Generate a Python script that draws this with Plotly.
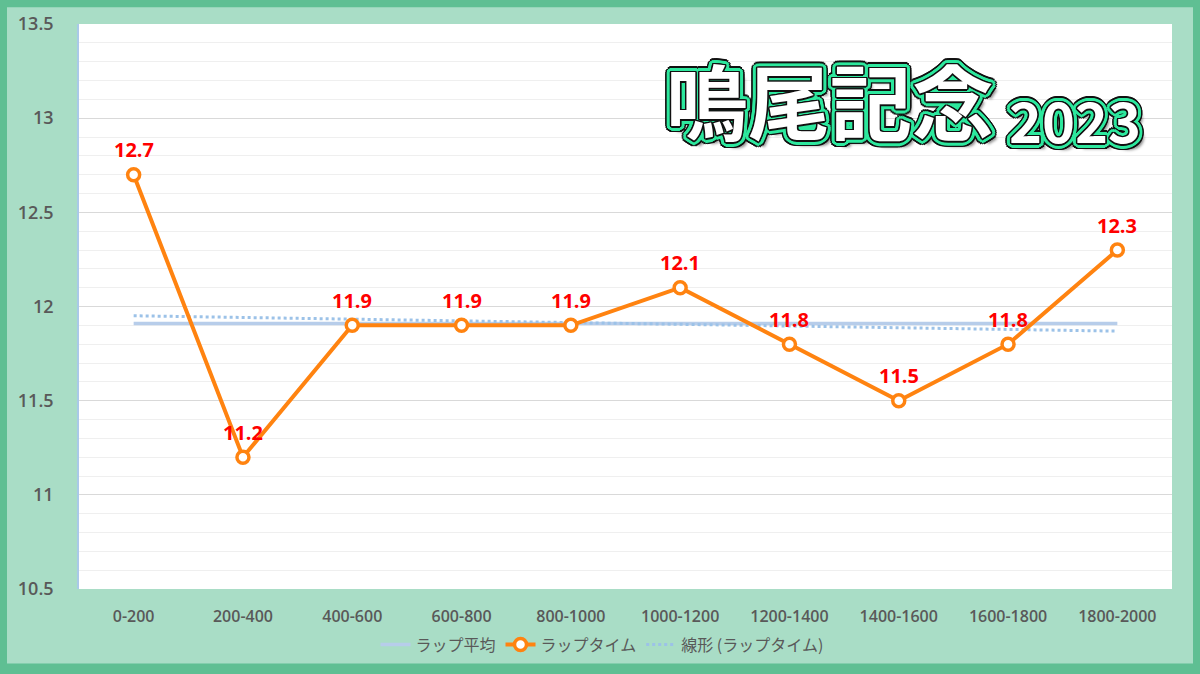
import numpy as np
import plotly.graph_objects as go

categories = ["0-200", "200-400", "400-600", "600-800", "800-1000",
              "1000-1200", "1200-1400", "1400-1600", "1600-1800", "1800-2000"]
lap_times = [12.7, 11.2, 11.9, 11.9, 11.9, 12.1, 11.8, 11.5, 11.8, 12.3]
y_tick_vals = [10.5, 11, 11.5, 12, 12.5, 13, 13.5]
title_main = "鳴尾記念"
title_year = "2023"

avg = float(np.mean(lap_times))
idx = np.arange(1, len(lap_times) + 1)
slope, intercept = np.polyfit(idx, lap_times, 1)
trend = list(slope * idx + intercept)

W, H = 1200, 674
ML, MR, MT, MB = 79, 28, 24, 82
PW, PH = W - ML - MR, H - MT - MB

def px(x):
    return (x - ML) / PW

def py(y):
    return (H - MB - y) / PH

FONT = "Open Sans, Noto Sans CJK JP, sans-serif"
JFONT = "Noto Sans CJK JP, sans-serif"
GRAY = "#595959"
ORANGE = "#FF8310"

fig = go.Figure()
fig.add_trace(go.Scatter(
    x=categories, y=[avg] * len(categories), mode="lines", name="ラップ平均",
    line=dict(color="#B7CDEA", width=3.5), legendrank=1, hoverinfo="skip"))
fig.add_trace(go.Scatter(
    x=categories, y=trend, mode="lines", name="線形 (ラップタイム)",
    line=dict(color="#9CC2E8", width=3, dash="dot"), legendrank=3, hoverinfo="skip"))
fig.add_trace(go.Scatter(
    x=categories, y=lap_times, mode="lines+markers", name="ラップタイム",
    line=dict(color=ORANGE, width=4),
    marker=dict(size=12, color="white", line=dict(color=ORANGE, width=3.5)),
    legendrank=2))

for c, v in zip(categories, lap_times):
    fig.add_annotation(x=c, y=v, text=f"{v:.1f}", showarrow=False, yshift=25,
                       font=dict(family=FONT, size=20, color="#FF0000", weight="bold"))

def ring(r, color, n=16):
    parts = []
    for k in range(n):
        a = 2 * np.pi * k / n
        parts.append(f"{r*np.cos(a):.1f}px {r*np.sin(a):.1f}px 0 {color}")
    return parts

shadow = ", ".join(ring(1.5, "#111111", 12) + ring(3, "#2EE89E", 16) + ring(4.5, "#2EE89E", 16)
                   + ring(6, "#111111", 20) + ["6px 6px 3px rgba(0,0,0,0.45)"])

fig.add_annotation(xref="paper", yref="paper", x=px(830), y=py(99), text=title_main,
                   showarrow=False, xanchor="center", yanchor="middle",
                   font=dict(family=JFONT, size=82, color="white",
                             weight="bold", shadow=shadow))
fig.add_annotation(xref="paper", yref="paper", x=px(1075), y=py(119), text=title_year,
                   showarrow=False, xanchor="center", yanchor="middle",
                   font=dict(family=JFONT, size=56, color="white",
                             weight="bold", shadow=shadow))

# outer frame border
fig.add_shape(type="rect", xref="paper", yref="paper",
              x0=px(0), x1=px(W), y0=py(H), y1=py(0),
              line=dict(color="#5FBF93", width=14), fillcolor="rgba(0,0,0,0)", layer="above")

fig.update_layout(
    width=W, height=H,
    margin=dict(l=ML, r=MR, t=MT, b=MB),
    paper_bgcolor="#A9DDC6", plot_bgcolor="white",
    font=dict(family=FONT, color=GRAY),
    showlegend=True,
    legend=dict(orientation="h", x=px(602), xanchor="center", y=py(648), yanchor="middle",
                font=dict(family=JFONT, size=16, color=GRAY), bgcolor="rgba(0,0,0,0)",
                itemwidth=30),
    xaxis=dict(type="category", range=[-0.5, 9.5], showgrid=False, zeroline=False,
               showline=False, ticks="", ticklabelstandoff=16,
               tickfont=dict(family=FONT, size=16, color=GRAY, weight=600)),
    yaxis=dict(range=[10.5, 13.5], tickvals=y_tick_vals, showgrid=True,
               gridcolor="#D9D9D9", gridwidth=1, zeroline=False,
               showline=True, linecolor="#A9C9E8", linewidth=1.5,
               ticks="", ticklabelstandoff=20,
               tickfont=dict(family=FONT, size=18, color=GRAY, weight=600),
               minor=dict(dtick=0.1, showgrid=True, gridcolor="#EFEFEF", gridwidth=1)),
)

fig.write_html("out.html", config={"displayModeBar": False},
               post_script="document.body.style.margin='0';")
